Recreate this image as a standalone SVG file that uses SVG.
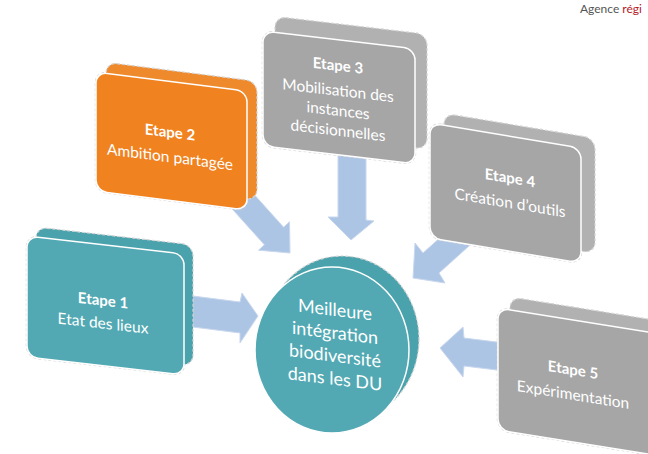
<svg xmlns="http://www.w3.org/2000/svg" width="648" height="454" viewBox="0 0 648 454">
<style>
.t{font-family:Lato,"Open Sans","Liberation Sans",sans-serif;fill:#fff;text-anchor:middle}
.b{font-weight:bold;font-size:15px}
.s{font-size:15.5px}
.c{font-size:18px}
.ol{fill:none;stroke:#d4d4d4;stroke-width:2.5;stroke-dasharray:3 2}
.bk{stroke:#d4d4d4;stroke-width:1.2;stroke-dasharray:3 2}
.fr{stroke:#fff;stroke-width:1.5}
.teal{fill:#52a9b3}.tealb{fill:#4aa2ac}
.or{fill:#f0821f}.orb{fill:#ef8a2c}
.gr{fill:#a6a6a6}.grb{fill:#b1b1b1}
.ar{fill:#adc5e5;stroke:#c9d8ee;stroke-width:1}
</style>
<rect width="648" height="454" fill="#fff"/>
<text x="580" y="13" font-family="Lato,'Open Sans',sans-serif" font-size="12" fill="#555">Agence <tspan fill="#b5202a">régi</tspan></text>

<g id="connectors">
<polygon class="ar" points="185,295 240,302 242,293 258,316 240,343 240,333 185,326"/>
<polygon class="ar" points="247.6,187.2 283.6,227.2 289.5,221.8 290,253 258.5,250.2 264.4,244.8 228.4,204.8"/>
<polygon class="ar" points="338,150 366,152 366,220 374,221 351,240 328,217 338,217"/>
<polygon class="ar" points="413,278 415,243 423,253 463,217 479,237 439,273 445,283"/>
<polygon class="ar" points="440,348 463,327 464,338 505,343 505,371 464,366 463,377"/>
</g>

<g id="center">
<ellipse cx="342" cy="339" rx="77" ry="83" class="tealb bk"/>
<ellipse cx="332" cy="350" rx="77" ry="83" class="teal fr"/>
<g transform="translate(335,350) skewY(7)">
<text class="t c" x="0" y="-34">Meilleure</text>
<text class="t c" x="0" y="-11">intégration</text>
<text class="t c" x="0" y="12">biodiversité</text>
<text class="t c" x="0" y="35">dans les DU</text>
</g>
</g>

<g id="etape1" transform="translate(27,236) skewY(6.5)">
<rect class="ol" x="0" y="0" width="157" height="121" rx="11"/>
<rect class="tealb bk" x="9" y="-10" width="157" height="121" rx="11"/>
<rect class="teal fr" x="0" y="0" width="157" height="121" rx="11"/>
<text class="t b" x="76" y="61">Etape 1</text>
<text class="t s" x="76" y="84">Etat des lieux</text>
</g>

<g id="etape2" transform="translate(96,72) skewY(7.2)">
<rect class="ol" x="0" y="0" width="151" height="119" rx="11"/>
<rect class="orb bk" x="10" y="-11" width="151" height="119" rx="11"/>
<rect class="or fr" x="0" y="0" width="151" height="119" rx="11"/>
<text class="t b" x="74" y="56">Etape 2</text>
<text class="t s" x="74" y="81">Ambition partagée</text>
</g>

<g id="etape3" transform="translate(263,31) skewY(6.7)">
<rect class="ol" x="0" y="0" width="152" height="115" rx="11"/>
<rect class="grb bk" x="12" y="-16" width="152" height="115" rx="11"/>
<rect class="gr fr" x="0" y="0" width="152" height="115" rx="11"/>
<text class="t b" x="75" y="31">Etape 3</text>
<text class="t s" x="75" y="56">Mobilisation des</text>
<text class="t s" x="75" y="76">instances</text>
<text class="t s" x="75" y="96">décisionnelles</text>
</g>

<g id="etape4" transform="translate(430,123) skewY(9.4)">
<rect class="ol" x="0" y="0" width="151" height="115" rx="11"/>
<rect class="grb bk" x="14" y="-12" width="151" height="115" rx="11"/>
<rect class="gr fr" x="0" y="0" width="151" height="115" rx="11"/>
<text class="t b" x="80" y="47">Etape 4</text>
<text class="t s" x="80" y="72">Création d’outils</text>
</g>

<g id="etape5" transform="translate(498,308) skewY(9.1)">
<rect class="ol" x="0" y="0" width="165" height="122" rx="11"/>
<rect class="grb bk" x="12" y="-13" width="165" height="122" rx="11"/>
<rect class="gr fr" x="0" y="0" width="165" height="122" rx="11"/>
<text class="t b" x="75" y="55">Etape 5</text>
<text class="t s" x="75" y="80">Expérimentation</text>
</g>
</svg>
